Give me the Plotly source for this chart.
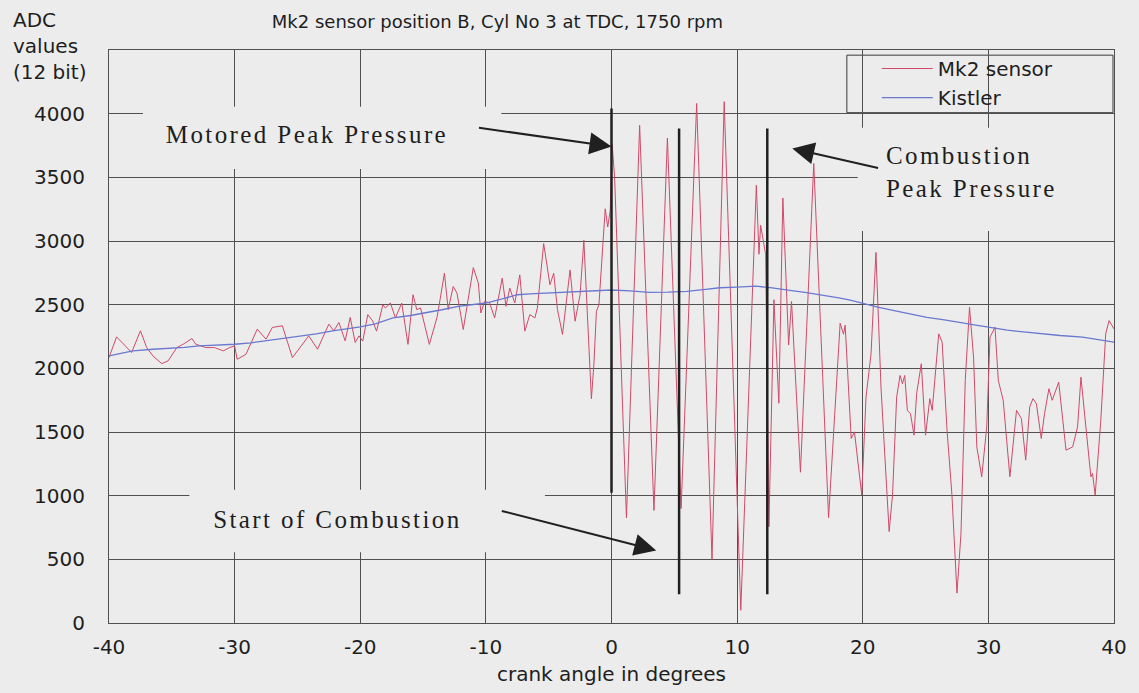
import plotly.graph_objects as go

# ---------------- data ----------------
mk2_x = [-40.0, -39.4, -38.7, -38.2, -37.5, -37.0, -36.5, -35.8, -35.3, -34.6, -34.1, -33.4, -33.1,
         -32.3, -31.6, -30.9, -30.4, -30.0, -29.8, -29.1, -28.2, -27.5, -27.0, -26.2, -25.4, -24.7,
         -24.1, -23.4, -22.5, -22.1, -21.7, -21.2, -20.8, -20.4, -20.1, -19.8, -19.4, -19.0, -18.7,
         -18.2, -18.0, -17.6, -17.2, -16.7, -16.2, -15.8, -15.5, -15.2, -14.5, -13.9, -13.8, -13.3,
         -13.0, -12.6, -12.3, -11.8, -11.0, -10.6, -10.4, -10.1, -9.7, -9.3, -8.7, -8.4, -8.1, -7.7,
         -7.3, -6.9, -6.5, -6.1, -5.9, -5.4, -4.9, -4.6, -4.3, -3.9, -3.3, -2.9, -2.5, -2.2, -1.9,
         -1.6, -1.4, -1.2, -1.0, -0.5, -0.3, -0.1, 0.05, 0.25, 1.19, 2.24, 3.38, 4.45, 5.54, 6.78,
         8.0, 8.97, 10.29, 11.53, 11.74, 11.87, 12.27, 12.53, 12.93, 13.19, 13.32, 13.64, 14.1,
         14.33, 15.04, 16.1, 17.28, 18.2, 18.47, 18.6, 19.08, 19.34, 19.92, 20.26, 20.66, 21.05,
         21.45, 22.1, 22.37, 22.7, 22.97, 23.16, 23.34, 23.55, 23.8, 24.08, 24.29, 24.66, 25.0,
         25.34, 25.53, 26.05, 26.32, 26.71, 27.1, 27.5, 27.82, 28.16, 28.5, 28.82, 29.08, 29.47,
         29.87, 30.13, 30.53, 30.79, 31.18, 31.71, 32.24, 32.63, 32.97, 33.29, 33.55, 33.82, 34.21,
         34.47, 34.82, 35.08, 35.6, 36.18, 36.71, 37.1, 37.37, 37.76, 38.16, 38.29, 38.5, 38.95,
         39.34, 39.61, 40.0]
mk2_y = [2084, 2247, 2176, 2124, 2295, 2163, 2097, 2037, 2058, 2163, 2189, 2234, 2190,
         2163, 2163, 2137, 2163, 2176, 2071, 2110, 2308, 2229, 2321, 2334, 2084, 2176,
         2255, 2150, 2347, 2295, 2360, 2216, 2400, 2203, 2255, 2214, 2422, 2370, 2292,
         2500, 2474, 2513, 2396, 2513, 2188, 2578, 2461, 2474, 2188, 2396, 2448, 2747,
         2461, 2643, 2591, 2305, 2791, 2669, 2435, 2526, 2513, 2396, 2708, 2487, 2630, 2513,
         2734, 2292, 2422, 2396, 2474, 2980, 2656, 2747, 2461, 2266, 2773, 2370, 2578, 3006, 2318,
         1760, 2033, 2448, 2500, 3253, 3110, 3240, 3760, 3500, 827, 3909, 884, 3809, 899, 4080,
         499, 4094, 100, 3438, 2896, 3124, 2896, 756, 2539, 1983, 1726, 3338, 2183,
         2525, 1184, 3609, 827, 2354, 2268, 2339, 1449, 1501, 1005, 1775, 2114, 2910,
         1853, 718, 1005, 1775, 1944, 1879, 1944, 1670, 1644, 1475, 1801, 2036, 1475,
         1762, 1670, 2271, 2205, 1514, 1005, 235, 705, 1905, 2480, 2088, 1383, 1148,
         1540, 2245, 2323, 1905, 1749, 1148, 1670, 1605, 1279, 1697, 1762, 1723, 1449,
         1644, 1840, 1749, 1892, 1357, 1383, 1540, 1931, 1540, 1148, 1174, 1005, 1592,
         2271, 2375, 2310]

kistler_x = [-40, -38.1, -36.5, -35.4, -34, -32.8, -31.5, -30, -28.7, -27.5, -26, -24.8, -23.5,
             -22.2, -21, -20, -18.8, -17.4, -16, -14.8, -13.5, -12.2, -11, -10, -8.7, -7.5, -6.5,
             -5.4, -4, -3, -1.5, 0, 1.5, 3, 4.5, 6, 7.5, 8.6, 10, 11.5, 12.5, 13.1, 14.2, 15.4,
             16.8, 18.1, 19, 20, 21.2, 22.5, 23.8, 25.1, 26.5, 27.8, 29, 30, 31.5, 33, 34.3, 35.7,
             37.5, 38.8, 40]
kistler_y = [2097, 2137, 2150, 2155, 2165, 2176, 2180, 2189, 2200, 2216, 2235, 2250, 2270,
             2295, 2310, 2325, 2350, 2396, 2415, 2435, 2460, 2487, 2500, 2513, 2545, 2578, 2585,
             2591, 2598, 2604, 2610, 2615, 2608, 2596, 2598, 2605, 2620, 2633, 2638, 2645, 2635,
             2625, 2612, 2596, 2575, 2553, 2535, 2508, 2480, 2453, 2425, 2401, 2380, 2362, 2340,
             2323, 2300, 2284, 2270, 2258, 2245, 2225, 2205]

y_tick_vals = [0, 500, 1000, 1500, 2000, 2500, 3000, 3500, 4000]
x_tick_vals = [-40, -30, -20, -10, 0, 10, 20, 30, 40]

# marker lines: (angle, bottom, top)
marker_lines = [(0.0, 1022, 4040), (5.38, 226, 3884), (12.4, 226, 3884)]

BG = "#ececec"
GRID = "#505050"
SANS = "DejaVu Sans"
SERIF = "Liberation Serif, Times New Roman, serif"
TXT = "#1e1e1e"

fig = go.Figure()
fig.add_trace(go.Scatter(x=mk2_x, y=mk2_y, mode="lines", name="Mk2 sensor",
                         line=dict(color="#cf4a6a", width=1)))
fig.add_trace(go.Scatter(x=kistler_x, y=kistler_y, mode="lines", name="Kistler",
                         line=dict(color="#6a78d0", width=1.3)))

shapes = []
# masks that hide the grid behind text boxes
for (x0, x1, y0, y1) in [(-37.3, -8.77, 3565, 4055), (19.6, 40.5, 3078, 3890), (-33.6, -5.3, 555, 1047)]:
    shapes.append(dict(type="rect", xref="x", yref="y", x0=x0, x1=x1, y0=y0, y1=y1,
                       fillcolor=BG, line=dict(width=0), layer="between"))
# legend box
shapes.append(dict(type="rect", xref="paper", yref="paper", x0=0.7342, x1=0.999, y0=0.8906, y1=0.991,
                   fillcolor=BG, line=dict(color="#3a3a3a", width=1), layer="between"))
for (xa, yb, yt) in marker_lines:
    shapes.append(dict(type="line", xref="x", yref="y", x0=xa, x1=xa, y0=yb, y1=yt,
                       line=dict(color="#202020", width=2.5), layer="above"))

annotations = [
    dict(x=-33.6, y=3836, xref="x", yref="y", text="Motored Peak Pressure", showarrow=False,
         xanchor="left", yanchor="middle", font=dict(family=SERIF, size=25, color=TXT)),
    dict(x=21.72, y=3539, xref="x", yref="y", text="Combustion<br>Peak Pressure", showarrow=False,
         xanchor="left", yanchor="middle", align="left", font=dict(family=SERIF, size=25, color=TXT)),
    dict(x=-30.05, y=812, xref="x", yref="y", text="Start of Combustion", showarrow=False,
         xanchor="left", yanchor="middle", font=dict(family=SERIF, size=25, color=TXT)),
    # arrows
    dict(x=0.0, y=3742, ax=-10.67, ay=3891, xref="x", yref="y", axref="x", ayref="y", text="",
         showarrow=True, arrowhead=2, arrowsize=2.2, arrowwidth=2, arrowcolor="#202020", standoff=0),
    dict(x=14.39, y=3727, ax=21.34, ay=3570, xref="x", yref="y", axref="x", ayref="y", text="",
         showarrow=True, arrowhead=2, arrowsize=2.2, arrowwidth=2, arrowcolor="#202020", standoff=0),
    dict(x=3.56, y=570, ax=-8.85, ay=883, xref="x", yref="y", axref="x", ayref="y", text="",
         showarrow=True, arrowhead=2, arrowsize=2.2, arrowwidth=2, arrowcolor="#202020", standoff=0),
    # y-axis caption
    dict(x=-0.0978, y=1.0764, xref="paper", yref="paper", text="ADC<br>values<br>(12 bit)",
         showarrow=False, xanchor="left", yanchor="top", align="left",
         font=dict(family=SANS, size=20, color=TXT)),
]

fig.update_layout(
    width=1139, height=693,
    margin=dict(l=109, r=18, t=50, b=67),
    paper_bgcolor=BG, plot_bgcolor=BG,
    title=dict(text="Mk2 sensor position B, Cyl No 3 at TDC, 1750 rpm",
               x=0.162, xref="paper", xanchor="left", y=0.968, yref="container", yanchor="middle",
               font=dict(family=SANS, size=18, color=TXT)),
    showlegend=True,
    legend=dict(x=0.764, y=1.0017, xanchor="left", yanchor="top", bgcolor="rgba(0,0,0,0)",
                borderwidth=0, itemwidth=51, font=dict(family=SANS, size=20, color=TXT)),
    shapes=shapes,
    annotations=annotations,
    xaxis=dict(range=[-40, 40], tickvals=x_tick_vals, ticktext=[str(v) for v in x_tick_vals],
               showgrid=True, gridcolor=GRID, gridwidth=1, zeroline=False,
               showline=True, linecolor=GRID, linewidth=1, mirror=True,
               ticks="outside", ticklen=6, tickcolor=BG,
               tickfont=dict(family=SANS, size=20, color=TXT),
               title=dict(text="crank angle in degrees", standoff=8,
                          font=dict(family=SANS, size=20, color=TXT))),
    yaxis=dict(range=[0, 4500], tickvals=y_tick_vals, ticktext=[str(v) for v in y_tick_vals],
               showgrid=True, gridcolor=GRID, gridwidth=1, zeroline=False,
               showline=True, linecolor=GRID, linewidth=1, mirror=True,
               ticks="outside", ticklen=19, tickcolor=BG,
               tickfont=dict(family=SANS, size=20, color=TXT)),
)

post = """
document.querySelectorAll('.annotation-text').forEach(function(t){
  var ff = t.style.fontFamily || '';
  if (ff.indexOf('Serif') >= 0) { t.style.letterSpacing = '2.4px'; }
});
"""

fig.write_html("out.html", post_script=post)
